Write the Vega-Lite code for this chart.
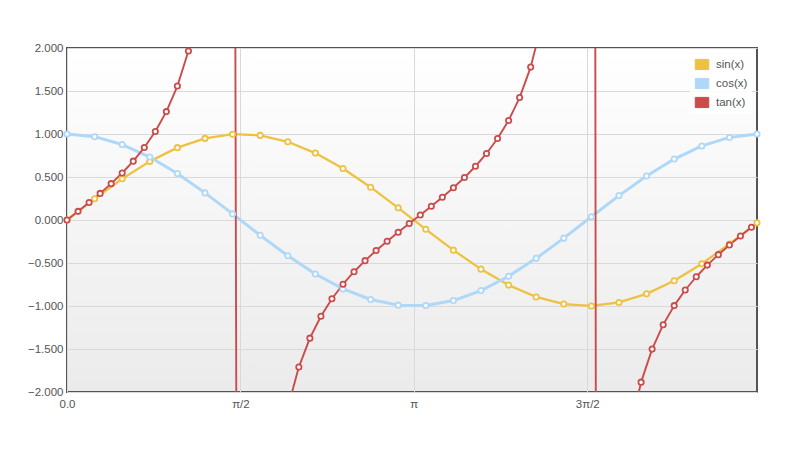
{
  "$schema": "https://vega.github.io/schema/vega-lite/v6.json",
  "width": 690,
  "height": 344,
  "autosize": {"type": "none"},
  "padding": {"left": 67, "top": 48, "right": 43, "bottom": 61},
  "background": "#ffffff",
  "config": {
    "font": "Liberation Sans",
    "view": {
      "stroke": "#545454",
      "strokeWidth": 2,
      "fill": {"gradient": "linear", "x1": 0, "y1": 0, "x2": 0, "y2": 1, "stops": [{"offset": 0, "color": "#ffffff"}, {"offset": 1, "color": "#ebebeb"}]}
    },
    "axis": {"domain": false, "ticks": false, "gridColor": "#d9d9d9", "gridWidth": 1, "labelColor": "#545454", "labelFontSize": 11.5, "labelFont": "Liberation Sans", "title": null}
  },
  "data": {"values": [
    {"s": "sin(x)", "x": 0, "y": 0}, {"s": "sin(x)", "x": 0.25, "y": 0.2474}, {"s": "sin(x)", "x": 0.5, "y": 0.4794}, {"s": "sin(x)", "x": 0.75, "y": 0.6816},
    {"s": "sin(x)", "x": 1, "y": 0.8415}, {"s": "sin(x)", "x": 1.25, "y": 0.949}, {"s": "sin(x)", "x": 1.5, "y": 0.9975}, {"s": "sin(x)", "x": 1.75, "y": 0.984},
    {"s": "sin(x)", "x": 2, "y": 0.9093}, {"s": "sin(x)", "x": 2.25, "y": 0.7781}, {"s": "sin(x)", "x": 2.5, "y": 0.5985}, {"s": "sin(x)", "x": 2.75, "y": 0.3817},
    {"s": "sin(x)", "x": 3, "y": 0.1411}, {"s": "sin(x)", "x": 3.25, "y": -0.1082}, {"s": "sin(x)", "x": 3.5, "y": -0.3508}, {"s": "sin(x)", "x": 3.75, "y": -0.5716},
    {"s": "sin(x)", "x": 4, "y": -0.7568}, {"s": "sin(x)", "x": 4.25, "y": -0.895}, {"s": "sin(x)", "x": 4.5, "y": -0.9775}, {"s": "sin(x)", "x": 4.75, "y": -0.9993},
    {"s": "sin(x)", "x": 5, "y": -0.9589}, {"s": "sin(x)", "x": 5.25, "y": -0.8589}, {"s": "sin(x)", "x": 5.5, "y": -0.7055}, {"s": "sin(x)", "x": 5.75, "y": -0.5083},
    {"s": "sin(x)", "x": 6, "y": -0.2794}, {"s": "sin(x)", "x": 6.25, "y": -0.0332},
    {"s": "cos(x)", "x": 0, "y": 1}, {"s": "cos(x)", "x": 0.25, "y": 0.9689}, {"s": "cos(x)", "x": 0.5, "y": 0.8776}, {"s": "cos(x)", "x": 0.75, "y": 0.7317},
    {"s": "cos(x)", "x": 1, "y": 0.5403}, {"s": "cos(x)", "x": 1.25, "y": 0.3153}, {"s": "cos(x)", "x": 1.5, "y": 0.0707}, {"s": "cos(x)", "x": 1.75, "y": -0.1782},
    {"s": "cos(x)", "x": 2, "y": -0.4161}, {"s": "cos(x)", "x": 2.25, "y": -0.6282}, {"s": "cos(x)", "x": 2.5, "y": -0.8011}, {"s": "cos(x)", "x": 2.75, "y": -0.9243},
    {"s": "cos(x)", "x": 3, "y": -0.99}, {"s": "cos(x)", "x": 3.25, "y": -0.9941}, {"s": "cos(x)", "x": 3.5, "y": -0.9365}, {"s": "cos(x)", "x": 3.75, "y": -0.8206},
    {"s": "cos(x)", "x": 4, "y": -0.6536}, {"s": "cos(x)", "x": 4.25, "y": -0.4461}, {"s": "cos(x)", "x": 4.5, "y": -0.2108}, {"s": "cos(x)", "x": 4.75, "y": 0.0376},
    {"s": "cos(x)", "x": 5, "y": 0.2837}, {"s": "cos(x)", "x": 5.25, "y": 0.5121}, {"s": "cos(x)", "x": 5.5, "y": 0.7087}, {"s": "cos(x)", "x": 5.75, "y": 0.8612},
    {"s": "cos(x)", "x": 6, "y": 0.9602}, {"s": "cos(x)", "x": 6.25, "y": 0.9994},
    {"s": "tan(x)", "x": 0, "y": 0}, {"s": "tan(x)", "x": 0.1, "y": 0.1003}, {"s": "tan(x)", "x": 0.2, "y": 0.2027}, {"s": "tan(x)", "x": 0.3, "y": 0.3093},
    {"s": "tan(x)", "x": 0.4, "y": 0.4228}, {"s": "tan(x)", "x": 0.5, "y": 0.5463}, {"s": "tan(x)", "x": 0.6, "y": 0.6841}, {"s": "tan(x)", "x": 0.7, "y": 0.8423},
    {"s": "tan(x)", "x": 0.8, "y": 1.0296}, {"s": "tan(x)", "x": 0.9, "y": 1.2602}, {"s": "tan(x)", "x": 1, "y": 1.5574}, {"s": "tan(x)", "x": 1.1, "y": 1.9648},
    {"s": "tan(x)", "x": 1.2, "y": 2.5722}, {"s": "tan(x)", "x": 1.3, "y": 3.6021}, {"s": "tan(x)", "x": 1.4, "y": 5.7979}, {"s": "tan(x)", "x": 1.5, "y": 14.1014},
    {"s": "tan(x)", "x": 1.6, "y": -34.2325}, {"s": "tan(x)", "x": 1.7, "y": -7.6966}, {"s": "tan(x)", "x": 1.8, "y": -4.2863}, {"s": "tan(x)", "x": 1.9, "y": -2.9271},
    {"s": "tan(x)", "x": 2, "y": -2.185}, {"s": "tan(x)", "x": 2.1, "y": -1.7098}, {"s": "tan(x)", "x": 2.2, "y": -1.3738}, {"s": "tan(x)", "x": 2.3, "y": -1.1192},
    {"s": "tan(x)", "x": 2.4, "y": -0.916}, {"s": "tan(x)", "x": 2.5, "y": -0.747}, {"s": "tan(x)", "x": 2.6, "y": -0.6016}, {"s": "tan(x)", "x": 2.7, "y": -0.4727},
    {"s": "tan(x)", "x": 2.8, "y": -0.3555}, {"s": "tan(x)", "x": 2.9, "y": -0.2464}, {"s": "tan(x)", "x": 3, "y": -0.1425}, {"s": "tan(x)", "x": 3.1, "y": -0.0416},
    {"s": "tan(x)", "x": 3.2, "y": 0.0585}, {"s": "tan(x)", "x": 3.3, "y": 0.1598}, {"s": "tan(x)", "x": 3.4, "y": 0.2643}, {"s": "tan(x)", "x": 3.5, "y": 0.3746},
    {"s": "tan(x)", "x": 3.6, "y": 0.4935}, {"s": "tan(x)", "x": 3.7, "y": 0.6247}, {"s": "tan(x)", "x": 3.8, "y": 0.7736}, {"s": "tan(x)", "x": 3.9, "y": 0.9474},
    {"s": "tan(x)", "x": 4, "y": 1.1578}, {"s": "tan(x)", "x": 4.1, "y": 1.4235}, {"s": "tan(x)", "x": 4.2, "y": 1.7778}, {"s": "tan(x)", "x": 4.3, "y": 2.2858},
    {"s": "tan(x)", "x": 4.4, "y": 3.0963}, {"s": "tan(x)", "x": 4.5, "y": 4.6373}, {"s": "tan(x)", "x": 4.6, "y": 8.8601}, {"s": "tan(x)", "x": 4.7, "y": 80.7104},
    {"s": "tan(x)", "x": 4.8, "y": -11.3849}, {"s": "tan(x)", "x": 4.9, "y": -5.2675}, {"s": "tan(x)", "x": 5, "y": -3.3805}, {"s": "tan(x)", "x": 5.1, "y": -2.4494},
    {"s": "tan(x)", "x": 5.2, "y": -1.8857}, {"s": "tan(x)", "x": 5.3, "y": -1.5013}, {"s": "tan(x)", "x": 5.4, "y": -1.2175}, {"s": "tan(x)", "x": 5.5, "y": -0.9956},
    {"s": "tan(x)", "x": 5.6, "y": -0.8139}, {"s": "tan(x)", "x": 5.7, "y": -0.6597}, {"s": "tan(x)", "x": 5.8, "y": -0.5247}, {"s": "tan(x)", "x": 5.9, "y": -0.4031},
    {"s": "tan(x)", "x": 6, "y": -0.291}, {"s": "tan(x)", "x": 6.1, "y": -0.1853}, {"s": "tan(x)", "x": 6.2, "y": -0.0834}
  ]},
  "layer": [
    {
      "mark": {"type": "line", "clip": true, "strokeJoin": "round", "strokeCap": "round"},
      "encoding": {
        "x": {"field": "x", "type": "quantitative", "scale": {"domain": [0, 6.25], "nice": false, "zero": false},
              "axis": {"values": [0, 1.5708, 3.1416, 4.7124], "labelExpr": "datum.value < 0.1 ? '0.0' : datum.value < 2 ? 'π/2' : datum.value < 4 ? 'π' : '3π/2'", "labelPadding": 6, "labelFlush": false}},
        "y": {"field": "y", "type": "quantitative", "scale": {"domain": [-2, 2], "nice": false},
              "axis": {"values": [-2, -1.5, -1, -0.5, 0, 0.5, 1, 1.5, 2], "format": ".3f", "labelPadding": 4}},
        "color": {"field": "s", "type": "nominal", "scale": {"domain": ["sin(x)", "cos(x)", "tan(x)"], "range": ["#edc240", "#afd8f8", "#cb4b4b"]},
                  "legend": {"title": null, "orient": "top-right", "offset": 5, "padding": 4, "fillColor": "rgba(255,255,255,0.85)",
                             "labelFontSize": 11.5, "labelColor": "#545454", "labelFont": "Liberation Sans", "labelOffset": 6, "rowPadding": 4, "clipHeight": 15,
                             "symbolType": "M-0.9,-0.68H0.9V0.68H-0.9Z", "symbolSize": 225, "symbolStrokeColor": "#cccccc", "symbolStrokeWidth": 1,
                             "encode": {"symbols": {"update": {"fill": {"scale": "color", "field": "value"}, "stroke": {"value": "#cccccc"}, "strokeWidth": {"value": 1}, "opacity": {"value": 1}}}}}},
        "strokeWidth": {"condition": [{"test": "datum.s === 'tan(x)'", "value": 1.9}, {"test": "datum.s === 'cos(x)'", "value": 3}], "value": 2.3}
      }
    },
    {
      "transform": [{"filter": "datum.y >= -2.02 && datum.y <= 2.02"}],
      "mark": {"type": "point", "filled": false, "fill": "#ffffff", "fillOpacity": 1, "opacity": 1, "size": 28, "strokeWidth": 1.8},
      "encoding": {
        "x": {"field": "x", "type": "quantitative"},
        "y": {"field": "y", "type": "quantitative"},
        "stroke": {"field": "s", "type": "nominal", "scale": {"domain": ["sin(x)", "cos(x)", "tan(x)"], "range": ["#edc240", "#afd8f8", "#cb4b4b"]}, "legend": null}
      }
    }
  ]
}
